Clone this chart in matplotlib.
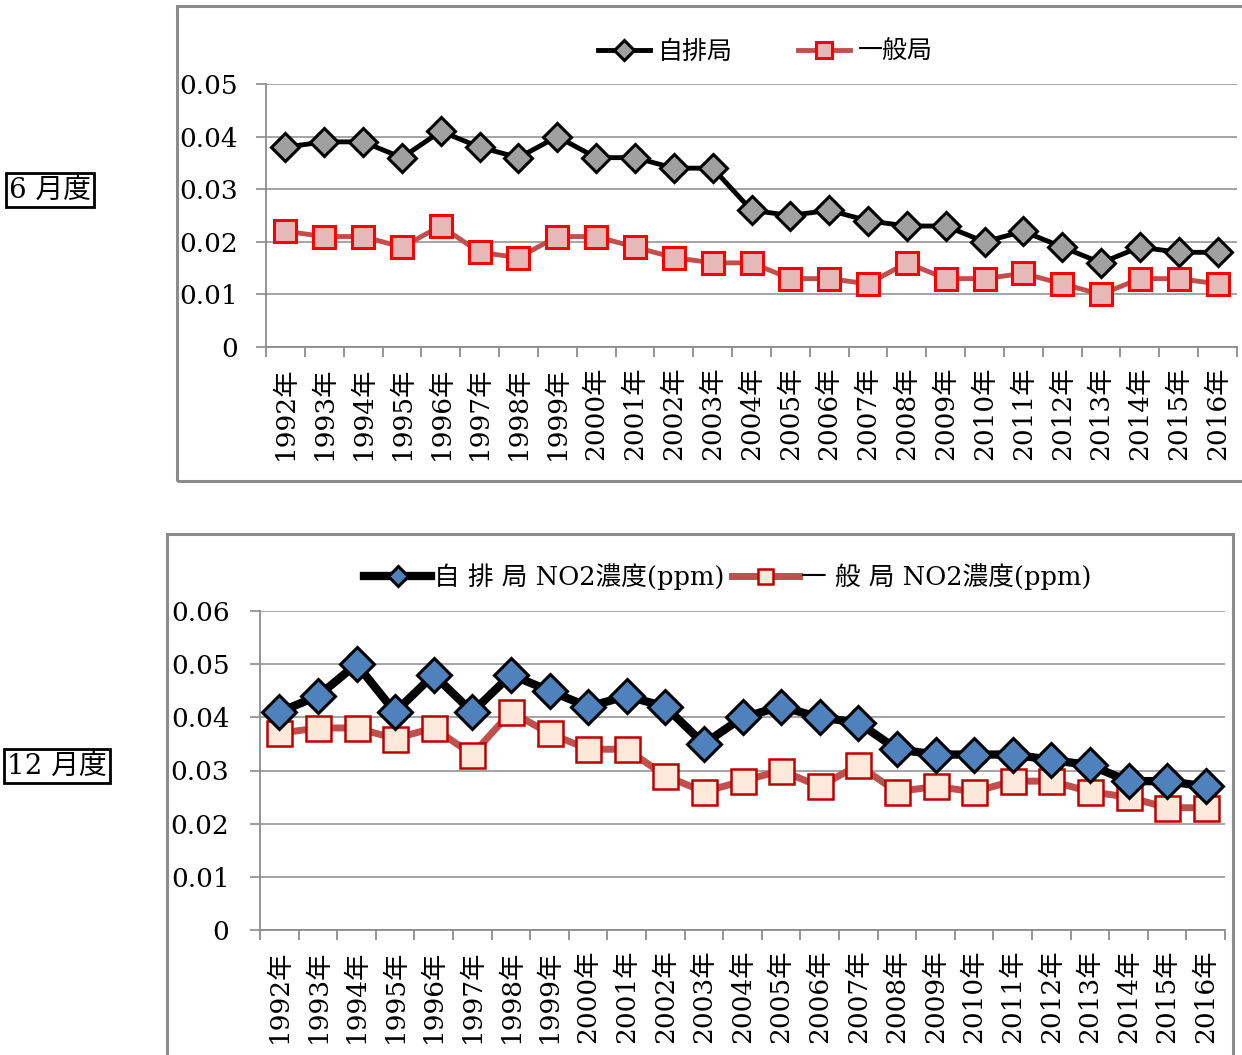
import matplotlib
matplotlib.use("Agg")
import matplotlib.pyplot as plt
from matplotlib.lines import Line2D
from matplotlib.patches import Rectangle

plt.rcParams['font.family'] = ['DejaVu Serif', 'Noto Sans CJK JP']

years = [f"{y}年" for y in range(1992, 2017)]

jun_jihai = [0.038, 0.039, 0.039, 0.036, 0.041, 0.038, 0.036, 0.040, 0.036, 0.036,
             0.034, 0.034, 0.026, 0.025, 0.026, 0.024, 0.023, 0.023, 0.020, 0.022,
             0.019, 0.016, 0.019, 0.018, 0.018]
jun_ippan = [0.022, 0.021, 0.021, 0.019, 0.023, 0.018, 0.017, 0.021, 0.021, 0.019,
             0.017, 0.016, 0.016, 0.013, 0.013, 0.012, 0.016, 0.013, 0.013, 0.014,
             0.012, 0.010, 0.013, 0.013, 0.012]
dec_jihai = [0.041, 0.044, 0.050, 0.041, 0.048, 0.041, 0.048, 0.045, 0.042, 0.044,
             0.042, 0.035, 0.040, 0.042, 0.040, 0.039, 0.034, 0.033, 0.033, 0.033,
             0.032, 0.031, 0.028, 0.028, 0.027]
dec_ippan = [0.037, 0.038, 0.038, 0.036, 0.038, 0.033, 0.041, 0.037, 0.034, 0.034,
             0.029, 0.026, 0.028, 0.030, 0.027, 0.031, 0.026, 0.027, 0.026, 0.028,
             0.028, 0.026, 0.025, 0.023, 0.023]

top_yticks = [0, 0.01, 0.02, 0.03, 0.04, 0.05]
top_ylabels = ["0", "0.01", "0.02", "0.03", "0.04", "0.05"]
bot_yticks = [0, 0.01, 0.02, 0.03, 0.04, 0.05, 0.06]
bot_ylabels = ["0", "0.01", "0.02", "0.03", "0.04", "0.05", "0.06"]

W, H = 1242, 1055
fig = plt.figure(figsize=(W / 100, H / 100), dpi=100)

GRAY = '#8c8c8c'


def fx(px):
    return px / W


def fy(py):
    return 1 - py / H


# chart frames
fig.add_artist(Rectangle((fx(177), fy(481)), fx(1260) - fx(177), fy(6) - fy(481),
                         transform=fig.transFigure, fill=False, edgecolor=GRAY, lw=2.2))
fig.add_artist(Rectangle((fx(167), fy(1070)), fx(1233) - fx(167), fy(534) - fy(1070),
                         transform=fig.transFigure, fill=False, edgecolor=GRAY, lw=2.2))


def setup_axes(ax, yticks, ylabels, ymax, n, ypad):
    ax.set_xlim(-0.5, n - 0.5)
    ax.set_ylim(0, ymax)
    ax.set_yticks(yticks)
    ax.set_yticklabels(ylabels, fontsize=19)
    ax.set_xticks(range(n))
    ax.set_xticklabels(years, rotation=90, fontsize=19)
    ax.set_xticks([i - 0.5 for i in range(n + 1)], minor=True)
    ax.tick_params(axis='x', which='major', length=0, pad=14)
    ax.tick_params(axis='x', which='minor', length=7, color=GRAY, width=1.3)
    ax.tick_params(axis='y', length=7, color=GRAY, width=1.2, pad=ypad)
    ax.grid(axis='y', color=GRAY, lw=1.1)
    ax.set_axisbelow(True)
    for s in ['top', 'right']:
        ax.spines[s].set_visible(False)
    for s in ['left', 'bottom']:
        ax.spines[s].set_color(GRAY)
        ax.spines[s].set_linewidth(1.3)


n = len(years)
x = list(range(n))

# top chart (June)
ax1 = fig.add_axes([fx(266), fy(347), fx(1237) - fx(266), fy(84) - fy(347)])
setup_axes(ax1, top_yticks, top_ylabels, 0.05, n, 13)
l1, = ax1.plot(x, jun_jihai, color='black', lw=3.5, marker='D', ms=14,
               mfc='#a0a0a0', mec='black', mew=2.2, clip_on=False, zorder=4, label='自排局')
l2, = ax1.plot(x, jun_ippan, color='#c0504d', lw=3.5, marker='s', ms=16,
               mfc='#e6b9b8', mec='#ff0000', mew=2.2, clip_on=False, zorder=3, label='一般局')
leg1 = fig.legend(handles=[l1, l2], loc='center', bbox_to_anchor=(fx(765), fy(52)),
                  ncol=2, frameon=False, markerscale=0.7,
                  handlelength=2.1, columnspacing=2.6, handletextpad=0.3,
                  prop={'family': ['Noto Sans CJK JP'], 'size': 18})

# bottom chart (December)
ax2 = fig.add_axes([fx(260), fy(930), fx(1225) - fx(260), fy(611) - fy(930)])
setup_axes(ax2, bot_yticks, bot_ylabels, 0.06, n, 15)
l3, = ax2.plot(x, dec_jihai, color='black', lw=6, marker='D', ms=17,
               mfc='#4f81bd', mec='black', mew=2.2, clip_on=False, zorder=4,
               label='自 排 局 NO2濃度(ppm)')
l4, = ax2.plot(x, dec_ippan, color='#c0504d', lw=5, marker='s', ms=18,
               mfc='#fde9d9', mec='#c00000', mew=1.8, clip_on=False, zorder=3,
               label='一 般 局 NO2濃度(ppm)')
leg2 = fig.legend(handles=[l3, l4], loc='center', bbox_to_anchor=(fx(728), fy(577)),
                  ncol=2, frameon=False, markerscale=0.6,
                  handlelength=2.6, columnspacing=0.3, handletextpad=0.1,
                  prop={'family': ['DejaVu Serif', 'Noto Sans CJK JP'], 'size': 18.5})

# side labels
fig.text(fx(50), fy(190), '6 月度', ha='center', va='center', fontsize=20,
         bbox=dict(boxstyle='square,pad=0.12', fc='white', ec='black', lw=2))
fig.text(fx(57), fy(766), '12 月度', ha='center', va='center', fontsize=20,
         bbox=dict(boxstyle='square,pad=0.12', fc='white', ec='black', lw=2))

fig.savefig('out.png', dpi=100)
